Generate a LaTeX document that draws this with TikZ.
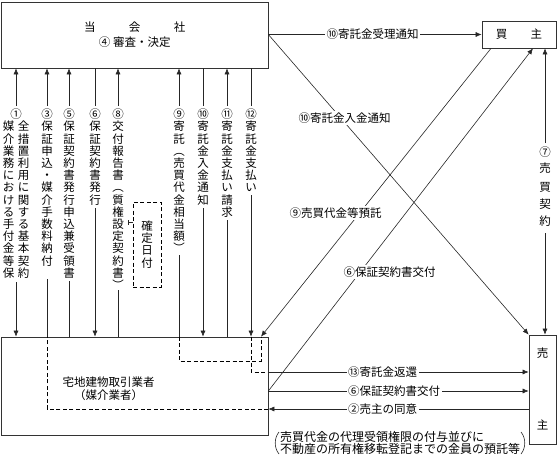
\documentclass[tikz,border=0pt]{standalone}
\usepackage{fontspec}
\setmainfont{Noto Sans CJK JP}
\usetikzlibrary{arrows.meta}
\makeatletter
\def\myvtend{\myvtend}
\newcommand\myvcell[1]{\hbox to 12pt{\hss\vrule width 0pt height 10.4pt depth 1.8pt\smash{#1}\hss}}
\newcommand\myvt[1]{\vbox{\offinterlineskip\myvt@loop#1\myvtend}}
\def\myvt@loop#1{\ifx#1\myvtend\else\myvcell{#1}\expandafter\myvt@loop\fi}
\makeatother
\begin{document}
\begin{tikzpicture}[x=1pt,y=-1pt,
  font=\fontsize{11.5}{13}\selectfont,
  ln/.style={line width=0.6pt, black!85},
  arr/.style={ln, -{Latex[length=6pt,width=5pt]}},
  dsh/.style={line width=1pt, dash pattern=on 4pt off 2.5pt},
  box/.style={draw=black!80, line width=0.7pt, inner sep=0},
  lab/.style={fill=white, inner sep=1.5pt},
  vlab/.style={inner sep=0, anchor=north}]
\useasboundingbox (0,0) rectangle (557,458);

% boxes
\node[box, minimum width=266.5pt, minimum height=66pt, align=center,
      font=\fontsize{11.5}{15}\selectfont] (top) at (134.75,35)
      {当\hspace{33.5pt}会\hspace{33.5pt}社\\④ 審査・決定};
\node[box, minimum width=266.5pt, minimum height=98pt] (bot) at (134.75,386) {};
\node[align=center, inner sep=0] (botlab) at (108.5,388.5) {宅地建物取引業者\\（媒介業者）};
\node[box, minimum width=74pt, minimum height=27pt] (buyer) at (519,34.5) {買\hspace{23.5pt}主};
\node[box, minimum width=27pt, minimum height=109pt] (seller) at (542.5,389.5) {};
\node[inner sep=0] (sel1) at (542.5,353) {売};
\node[inner sep=0] (sel2) at (542.5,425) {主};

% gap coordinates of the vertical lines
\coordinate (c1a) at (16,106);  \coordinate (c1b) at (16,282);
\coordinate (c3a) at (47,106);  \coordinate (c3b) at (47,279);
\coordinate (c5a) at (69,106);  \coordinate (c5b) at (69,281);
\coordinate (c6a) at (95,106);  \coordinate (c6b) at (95,208);
\coordinate (c8a) at (118,106); \coordinate (c8b) at (118,290);
\coordinate (c9a) at (179,106); \coordinate (c9b) at (179,255);
\coordinate (c10a) at (203,106); \coordinate (c10b) at (203,208);
\coordinate (c11a) at (227,106); \coordinate (c11b) at (227,220);
\coordinate (c12a) at (251,106); \coordinate (c12b) at (251,195);

% vertical connectors
\draw[arr] (c1a) -- (c1a |- top.south);  \draw[arr] (c1b) -- (c1b |- bot.north);
\draw[arr] (c3a) -- (c3a |- top.south);  \draw[ln] (c3b) -- (c3b |- bot.north);
\draw[arr] (c5a) -- (c5a |- top.south);  \draw[ln] (c5b) -- (c5b |- bot.north);
\draw[ln] (c6a) -- (c6a |- top.south);   \draw[arr] (c6b) -- (c6b |- bot.north);
\draw[arr] (c8a) -- (c8a |- top.south);  \draw[ln] (c8b) -- (c8b |- bot.north);
\draw[arr] (c9a) -- (c9a |- top.south);  \draw[ln] (c9b) -- (c9b |- bot.north);
\draw[ln] (c10a) -- (c10a |- top.south); \draw[arr] (c10b) -- (c10b |- bot.north);
\draw[arr] (c11a) -- (c11a |- top.south); \draw[ln] (c11b) -- (c11b |- bot.north);
\draw[ln] (c12a) -- (c12a |- top.south); \draw[arr] (c12b) -- (c12b |- bot.north);

% vertical labels
\node[vlab] (v1) at (16,108) {\vbox{\offinterlineskip
  \hbox to 27pt{\hss\myvcell{①}\hss}%
  \hbox{\myvt{媒介業務における手付金等保}\kern3pt\myvt{全措置利用に関する基本契約}}}};
\node[vlab] (v3) at (47,108) {\myvt{③保証申込・媒介手数料納付}};
\node[vlab] (v5) at (69,108) {\myvt{⑤保証契約書発行申込兼受領書}};
\node[vlab] (v6) at (95,108) {\myvt{⑥保証契約書発行}};
\node[vlab] (v8) at (118,108) {\myvt{⑧交付報告書︵質権設定契約書︶}};
\node[vlab] (v9) at (179,108) {\myvt{⑨寄託︵売買代金相当額︶}};
\node[vlab] (v10) at (203,108) {\myvt{⑩寄託金入金通知}};
\node[vlab] (v11) at (227,108) {\myvt{⑪寄託金支払い請求}};
\node[vlab] (v12) at (251,108) {\myvt{⑫寄託金支払い}};

% 確定日付
\node[draw, dsh, minimum width=28pt, minimum height=85pt, inner sep=0] (kt) at (147,244.5) {\myvt{確定日付}};
\coordinate (tk) at (128,222);
\draw[ln] (kt.west |- tk) -- (tk);
\draw[ln] ([yshift=-2.5pt]tk) -- ([yshift=2.5pt]tk);

% dashed routes inside the broker box
\coordinate (d9) at (261,361);
\coordinate (d12) at (251,372);
\coordinate (d6) at (268,391);
\coordinate (d2) at (268,409);
\draw[dsh] (c9b |- bot.north) |- (d9) -- (d9 |- bot.north);
\draw[dsh] (c12b |- bot.north) |- (bot.east |- d12);
\draw[dsh] (bot.east |- d2) -| (c3b |- bot.north);

% right-hand connectors
\draw[arr] (top.east |- buyer.west) -- (buyer.west);
\draw[arr] (top.east |- buyer.west) -- (seller.north west);
\draw[arr] ([xshift=-28pt]buyer.south) -- (d9 |- bot.north);
\draw[arr] (bot.east |- d6) -- ([xshift=14pt]buyer.south);
\coordinate (c7a) at (545,143); \coordinate (c7b) at (545,233);
\draw[arr] (c7a) -- (c7a |- buyer.south);
\draw[arr] (c7b) -- (c7b |- seller.north);
\draw[arr] (bot.east |- d12) -- (seller.west |- d12);
\draw[arr] (bot.east |- d6) -- (seller.west |- d6);
\draw[arr] (seller.west |- d2) -- (bot.east |- d2);

% labels on connectors
\node[lab] (l10a) at (372.5,34) {⑩寄託金受理通知};
\node[lab] (l10b) at (344.5,118) {⑩寄託金入金通知};
\node[lab] (l9d) at (335.5,213) {⑨売買代金等預託};
\node[lab] (l6d) at (389.5,272) {⑥保証契約書交付};
\node[lab, anchor=west] (l13) at (346.5,372) {⑬寄託金返還};
\node[lab, anchor=west] (l6h) at (346.5,391) {⑥保証契約書交付};
\node[lab, anchor=west] (l2) at (346.5,409) {②売主の同意};
\node[vlab] (v7) at (545,146) {\vbox{\offinterlineskip
  \myvcell{⑦}\kern3.8pt\myvcell{売}\kern6.8pt\myvcell{買}\kern4.8pt\myvcell{契}\kern4.8pt\myvcell{約}}};

% note
\node[inner sep=0, anchor=west, align=left,
      font=\fontsize{12}{12}\selectfont] (note) at (280,443)
  {\lineskiplimit=-6pt\relax 売買代金の代理受領権限の付与並びに\\不動産の所有権移転登記までの金員の預託等};
\draw[ln] (279,432) .. controls (274,438) and (274,448) .. (279,454);
\draw[ln] (521,432) .. controls (526,438) and (526,448) .. (521,454);
\end{tikzpicture}
\end{document}
